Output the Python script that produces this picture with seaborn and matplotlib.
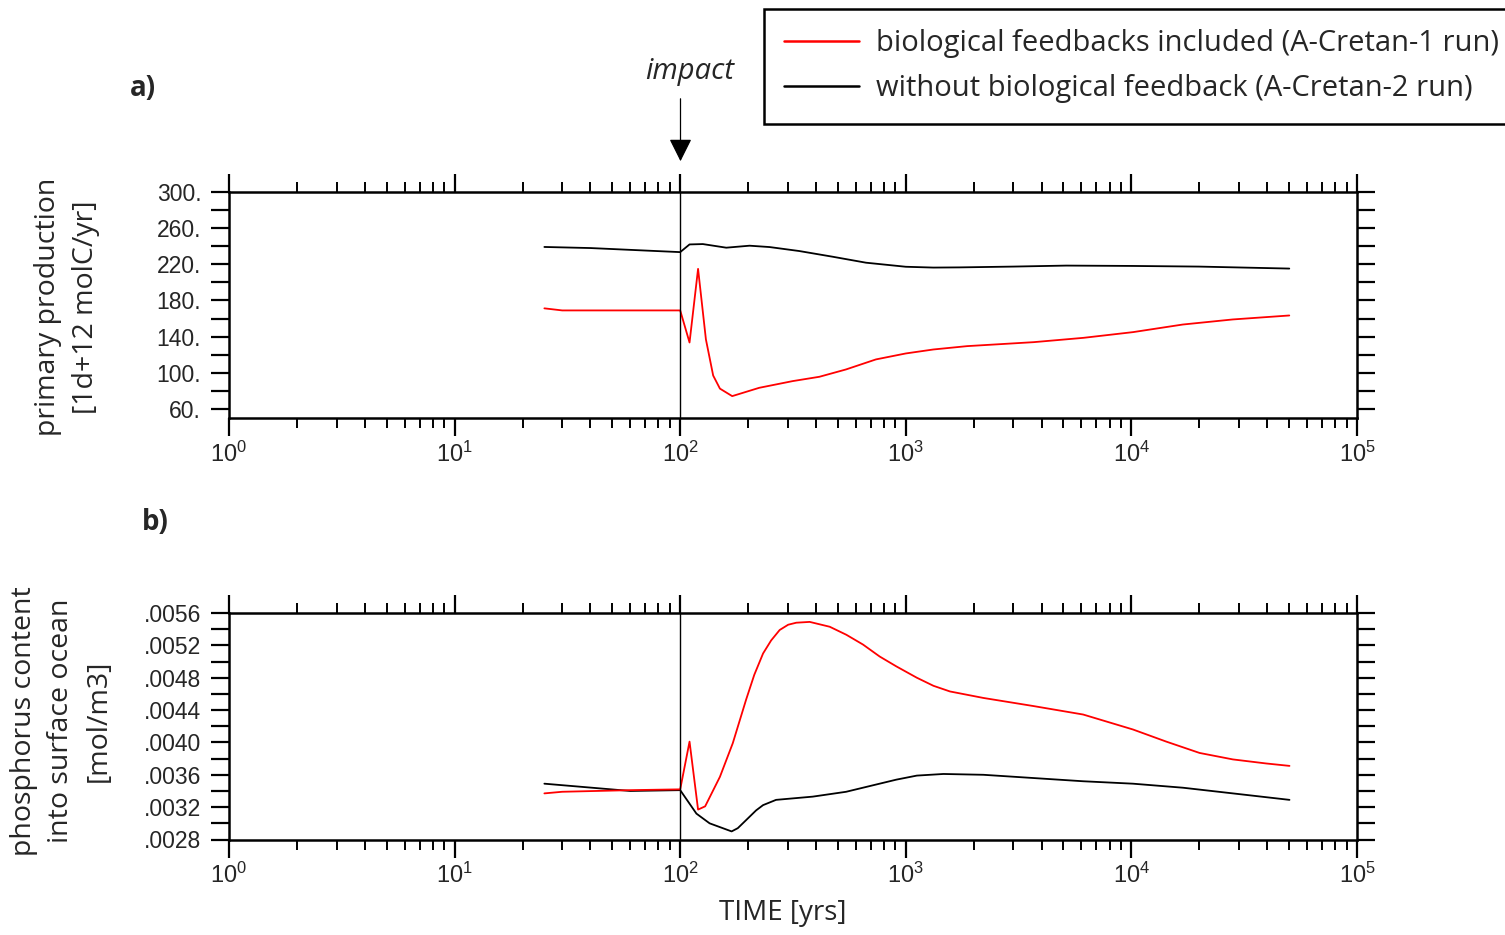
import numpy as np
import pandas as pd
import matplotlib
matplotlib.use("Agg")
import matplotlib.pyplot as plt
import matplotlib.ticker as mticker
from matplotlib.lines import Line2D
import seaborn as sns

### Data ------------------------------------------------------------------------
# panel a) primary production [1d+12 molC/yr]
years_a_red = [25, 30, 100, 110, 120, 130, 140, 150, 170, 224, 315, 414, 543, 737,
               1000, 1325, 1870, 3690, 6140, 10170, 16900, 28100, 50100]
prod_red = [171.3, 169, 169, 133.5, 215, 137, 97, 82.5, 74.2, 83.4, 90.8, 95.6, 103.7, 114.8,
            121.4, 125.8, 129.5, 133.9, 138.7, 145, 153.4, 159, 163.4]

years_a_black = [25, 40, 60, 100, 110, 126, 160, 203, 249, 337, 474, 666, 1000, 1325,
                 1722, 3000, 5150, 10100, 19900, 50100]
prod_black = [239.2, 238, 236, 233.5, 242, 242.4, 238.4, 240.6, 239.1, 234.7, 228.4, 221.8,
              217.3, 216.4, 216.6, 217.5, 218.6, 218.2, 217.5, 215.3]

# panel b) phosphorus content into surface ocean [mol/m3]
years_b_red = [25, 30, 60, 100, 110, 120, 129, 150, 171, 196, 213, 233, 253, 276, 301, 327,
               375, 460, 545, 646, 766, 908, 1119, 1326, 1570, 2206, 3673, 6110, 10160,
               14280, 20050, 28170, 39550, 50200]
phos_red = [0.00337, 0.00339, 0.00341, 0.00342, 0.00401, 0.00317, 0.00321, 0.003575, 0.00399,
            0.00453, 0.004836, 0.00510, 0.005261, 0.00539, 0.005455, 0.00548, 0.00549,
            0.00543, 0.005331, 0.00521, 0.005062, 0.00494, 0.00480, 0.00470, 0.00463,
            0.00455, 0.00445, 0.004345, 0.00416, 0.00401, 0.00387, 0.00379, 0.00374, 0.00371]

years_b_black = [25, 60, 100, 118, 135, 169, 180, 196, 217, 233, 266, 387, 544, 908, 1119,
                 1468, 2206, 3673, 6110, 10160, 16940, 28170, 50200]
phos_black = [0.00349, 0.00340, 0.00341, 0.00312, 0.00300, 0.00290, 0.00294, 0.00304, 0.00316,
              0.003225, 0.00329, 0.00333, 0.00339, 0.00354, 0.00359, 0.00361, 0.00360,
              0.00356, 0.00352, 0.00349, 0.00344, 0.00337, 0.00329]

impact_year = 100
label_red = "biological feedbacks included (A-Cretan-1 run)"
label_black = "without biological feedback (A-Cretan-2 run)"

### Style -----------------------------------------------------------------------
sns.set_style("ticks")
plt.rcParams['font.family'] = ['Liberation Sans', 'DejaVu Sans']
plt.rcParams['mathtext.fontset'] = 'custom'
plt.rcParams['mathtext.rm'] = 'Liberation Sans'
plt.rcParams['mathtext.it'] = 'Liberation Sans:italic'

W, H = 1505, 935
fig = plt.figure(figsize=(W / 100, H / 100), dpi=100)

def fx(px):
    return px / W

def fy(py):
    return 1 - py / H

ax_a = fig.add_axes([fx(229), fy(418), fx(1357) - fx(229), fy(192) - fy(418)])
ax_b = fig.add_axes([fx(229), fy(839.5), fx(1357) - fx(229), fy(613) - fy(839.5)])

def style_axis(ax, ylim, major, minor, fmt):
    ax.set_xscale('log')
    ax.set_xlim(1, 1e5)
    ax.set_ylim(*ylim)
    for s in ax.spines.values():
        s.set_linewidth(1.8)
        s.set_color('black')
    ax.xaxis.set_major_locator(mticker.LogLocator(base=10, numticks=10))
    ax.xaxis.set_minor_locator(mticker.LogLocator(base=10, subs=np.arange(2, 10), numticks=20))
    ax.xaxis.set_major_formatter(mticker.FuncFormatter(lambda v, p: r"$10^{%d}$" % round(np.log10(v))))
    ax.xaxis.set_minor_formatter(mticker.NullFormatter())
    ax.tick_params(axis='x', which='major', direction='out', length=13, width=1.6,
                   top=True, bottom=True, labelsize=17, pad=4, color='black')
    ax.tick_params(axis='x', which='minor', direction='out', length=7, width=1.4,
                   top=True, bottom=True, color='black')
    ax.yaxis.set_major_locator(mticker.FixedLocator(major))
    ax.yaxis.set_minor_locator(mticker.FixedLocator(minor))
    ax.yaxis.set_major_formatter(mticker.FuncFormatter(fmt))
    ax.tick_params(axis='y', which='both', direction='out', length=13, width=1.6,
                   left=True, right=True, labelsize=16.5, pad=7, color='black')
    ax.set_xlabel('')
    ax.set_ylabel('')

### Panel a ---------------------------------------------------------------------
sns.lineplot(x=years_a_black, y=prod_black, ax=ax_a, color='black', linewidth=1.3,
             estimator=None, sort=False)
sns.lineplot(x=years_a_red, y=prod_red, ax=ax_a, color='red', linewidth=1.3,
             estimator=None, sort=False)
ax_a.axvline(impact_year, color='black', linewidth=1.0)
style_axis(ax_a, (50, 300), np.arange(60, 301, 40), np.arange(80, 300, 40),
           lambda v, p: "%d." % round(v))

### Panel b ---------------------------------------------------------------------
sns.lineplot(x=years_b_black, y=phos_black, ax=ax_b, color='black', linewidth=1.3,
             estimator=None, sort=False)
sns.lineplot(x=years_b_red, y=phos_red, ax=ax_b, color='red', linewidth=1.3,
             estimator=None, sort=False)
ax_b.axvline(impact_year, color='black', linewidth=1.0)
style_axis(ax_b, (0.0028, 0.0056), np.linspace(0.0028, 0.0056, 8),
           np.linspace(0.0030, 0.0054, 7), lambda v, p: ("%.4f" % v)[1:])

### Texts -----------------------------------------------------------------------
lab_font = ['Open Sans', 'DejaVu Sans']
fig.text(fx(67), fy(307), "primary production\n[1d+12 molC/yr]", rotation=90, ha='center',
         va='center', multialignment='center', fontsize=20.5, family=lab_font, linespacing=1.45)
fig.text(fx(61), fy(721), "phosphorus content\ninto surface ocean\n[mol/m3]", rotation=90,
         ha='center', va='center', multialignment='center', fontsize=20.5, family=lab_font,
         linespacing=1.45)
fig.text(fx(783), fy(913), "TIME [yrs]", ha='center', va='center', fontsize=20, family=lab_font)
fig.text(fx(143), fy(88), "a)", ha='center', va='center', fontsize=20, fontweight='bold',
         family=lab_font)
fig.text(fx(155), fy(523), "b)", ha='center', va='center', fontsize=20, fontweight='bold',
         family=lab_font)
fig.text(fx(690), fy(72), "impact", ha='center', va='center', fontsize=21, style='italic',
         family=lab_font)
fig.add_artist(matplotlib.patches.FancyArrowPatch(
    (fx(680.5), fy(96)), (fx(680.5), fy(164)), transform=fig.transFigure,
    arrowstyle='-|>,head_length=0.7,head_width=0.35', mutation_scale=20,
    color='black', linewidth=0.9))

### Legend ----------------------------------------------------------------------
handles = [Line2D([0], [0], color='red', linewidth=1.8),
           Line2D([0], [0], color='black', linewidth=1.8)]
leg = fig.legend(handles, [label_red, label_black], loc='upper left',
                 bbox_to_anchor=(fx(764), fy(9)), frameon=True, fancybox=False,
                 edgecolor='black', framealpha=1, borderaxespad=0, borderpad=0.7,
                 handlelength=2.55, handletextpad=0.6, labelspacing=0.55,
                 prop={'family': lab_font, 'size': 21})
leg.get_frame().set_linewidth(1.8)

fig.savefig("out.png", dpi=100)
